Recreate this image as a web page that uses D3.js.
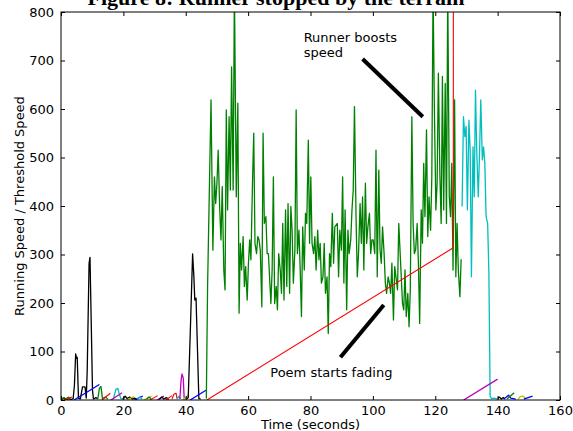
<!DOCTYPE html>
<html><head><meta charset="utf-8">
<script src="https://cdn.jsdelivr.net/npm/d3@7"></script>
<style>
body{margin:0;background:#fff;}
svg{display:block;font-family:"DejaVu Sans",sans-serif;}
</style></head><body>
<svg id="chart" width="573" height="431"></svg>
<script>
// ---------- data ----------
const titleText = "Figure 8: Runner stopped by the terrain";
const xLabelText = "Time (seconds)";
const yLabelText = "Running Speed / Threshold Speed";
const xTickValues = [0, 20, 40, 60, 80, 100, 120, 140, 160];
const yTickValues = [0, 100, 200, 300, 400, 500, 600, 700, 800];

// main running speed (green)
const greenTime = [46.6,47.0,48.1,48.7,49.2,49.6,50.0,50.4,50.9,51.3,51.7,52.2,52.6,53.0,53.4,53.9,54.3,54.7,55.2,55.6,56.2,56.7,57.1,57.5,57.9,58.4,58.8,59.2,59.7,60.1,60.5,60.9,61.4,61.8,62.2,62.7,63.1,63.5,63.9,64.4,64.8,65.2,65.7,66.1,66.5,
67.3,67.7,68.1,68.5,69.0,69.4,69.8,70.3,70.7,71.1,71.5,72.0,72.4,72.8,73.3,73.7,74.1,74.5,75.0,75.4,75.8,76.3,76.7,77.1,77.5,78.0,78.4,78.8,79.3,79.7,80.1,80.5,81.0,81.4,81.8,82.3,82.7,83.1,83.5,84.0,84.4,84.8,85.3,85.7,86.1,86.5,87.0,87.4,87.8,
88.6,89.0,89.4,89.9,90.3,90.7,91.1,91.6,92.0,92.4,92.9,93.3,93.7,94.1,94.6,95.0,95.4,95.9,96.3,96.7,97.1,97.6,98.0,98.4,98.9,99.3,99.7,100.1,100.6,101.0,101.4,101.9,102.3,102.7,103.1,103.6,104.0,104.4,104.9,105.3,105.7,106.1,106.6,107.0,107.4,107.9,108.3,
109.0,109.5,109.9,110.3,110.7,111.2,111.6,112.0,112.5,112.9,113.3,113.7,114.2,114.6,115.0,115.5,115.9,116.3,116.7,117.2,117.6,118.0,118.5,118.9,119.3,119.7,120.2,120.6,121.0,121.5,121.9,122.3,122.7,123.2,123.6,124.0,124.5,124.9,125.3,125.7,126.2,126.6,127.0,127.4,127.9,128.3];
const greenSpeed = [3,234,619,309,460,405,447,515,392,330,440,268,227,598,392,584,433,687,433,850,419,612,179,323,268,337,234,275,206,282,330,289,447,550,323,302,337,330,309,192,550,364,378,302,302,
199,268,460,199,234,186,302,268,220,364,206,392,234,405,220,399,350,241,309,598,302,350,268,172,357,268,385,364,536,323,460,323,302,337,268,350,289,323,241,254,323,220,254,137,302,275,385,282,357,
364,254,350,309,460,241,392,186,350,302,330,392,433,605,378,254,302,405,323,419,268,447,323,357,385,302,330,330,302,515,254,474,309,282,357,302,241,220,254,241,220,282,165,275,254,227,364,
268,199,186,268,172,220,151,227,584,364,302,309,364,282,158,392,323,488,378,557,337,419,350,460,850,612,392,447,674,460,364,667,392,653,364,850,419,378,488,268,619,254,364,268,213,290];

// threshold for the main run (red)
const redThreshold = [[46.8, 0], [125.8, 314], [125.8, 900]];

// second run speed (cyan) and its threshold (magenta)
const cyanRun = [[128.6,399],[129.05,584],[129.5,543],[129.9,564],[130.3,392],[130.8,577],[131.2,515],[131.6,254],[132.1,522],[132.5,419],[132.9,639],[133.3,515],[133.8,419],[134.2,509],[134.6,619],[135.1,495],[135.5,522],[135.9,488],[136.3,378],[136.8,364],[137.2,261],[137.6,7],[138.1,3],[138.9,4],[140.0,2]];
const magentaThreshold = [[129.1, 0], [140.0, 43]];

// early short runs and thresholds
const blackRunA = [[0,2],[0.8,4],[1.6,1],[2.4,3],[3.2,1],[3.9,3],[4.3,30],[4.7,95],[5.0,86],[5.2,88],[5.6,4],[6.2,2],[6.9,27],[7.7,27],[8.1,4],[8.4,60],[9.0,282],[9.3,294],[10.1,20],[10.4,2],[11.2,5],[11.8,2]];
const greenRunA = [[0.3,1],[1.0,5],[1.6,2],[2.4,6],[3.0,1]];
const redThresholdA = [[1.0,0],[3.5,6]];
const blueThresholdA = [[4.2,0],[12.3,32]];
const greenRunB = [[11.8,2],[12.3,24],[12.8,28],[13.3,3],[14.2,6],[15.0,2]];
const redThresholdB = [[13.2,0],[15.8,14]];
const cyanRunB = [[16.8,2],[17.6,22],[18.2,24],[18.7,12],[19.2,3],[20.0,2]];
const magentaThresholdB = [[16.0,0],[19.6,15]];
const blackRunC = [[19.8,2],[20.6,8],[21.2,3],[22.0,6],[22.8,2],[23.6,4],[24.4,1]];
const yellowThresholdC = [[21.0,0],[23.4,7]];
const blueThresholdD = [[23.5,0],[26.2,8]];
const cyanRunD = [[24.5,2],[25.2,6],[26.0,2]];
const yellowThresholdE = [[26.6,0],[29.0,8]];
const greenRunE = [[27.5,2],[28.2,6],[28.9,2]];
const redThresholdE = [[28.6,0],[31.0,9]];
const magentaThresholdF = [[30.8,0],[33.0,8]];
const blackRunF = [[31.5,1],[32.3,6],[33.0,2],[33.8,5],[34.5,1]];
const redThresholdG = [[33.6,0],[35.6,9]];
const redRunH = [[35.6,2],[36.2,12],[36.9,14],[37.2,3]];
const cyanRunH = [[37.2,2],[37.8,8],[38.4,3]];
const magentaRunI = [[38.1,2],[38.5,40],[38.8,54],[39.2,45],[39.5,3],[40.0,2]];
const yellowThresholdI = [[39.0,0],[40.8,10]];
const blackRunJ = [[40.3,2],[40.8,5],[41.5,150],[42.2,301],[42.6,255],[42.9,206],[43.3,210],[44.2,3],[44.8,2]];
const blueThresholdJ = [[41.4,0],[46.5,20]];
// tail runs after 140 s
const blackRunK = [[140,3],[140.6,6],[141.2,2],[141.8,5],[142.3,2]];
const blueRunK = [[142.0,2],[142.8,6],[143.5,10],[144.2,4],[145.0,3],[145.8,2]];
const greenThresholdK = [[143.0,2],[145.3,15]];
const yellowRunL = [[146.6,2],[147.2,7],[148.2,8],[148.9,3]];
const blueThresholdL = [[148.4,2],[151.2,8]];

// annotations (data coordinates)
const annotationTexts = [["Runner boosts", "speed"], ["Poem starts fading"]];
const annotationAnchors = [[77.8, 738], [67.1, 47]];
const arrowSegments = [[[96.7, 703], [116.0, 584]], [[89.6, 88], [103.5, 196]]];

// ---------- styles ----------
const C = {b:"#0000ff", g:"#008000", r:"#ff0000", c:"#00bfbf", m:"#bf00bf", y:"#bfbf00", k:"#000000"};
const greenPairs = greenTime.map((t, i) => [t, greenSpeed[i]]);
const seriesList = [
  [blackRunA, C.k], [greenRunA, C.g], [redThresholdA, C.r], [blueThresholdA, C.b],
  [greenRunB, C.g], [redThresholdB, C.r], [cyanRunB, C.c], [magentaThresholdB, C.m],
  [blackRunC, C.k], [yellowThresholdC, C.y], [blueThresholdD, C.b], [cyanRunD, C.c],
  [yellowThresholdE, C.y], [greenRunE, C.g], [redThresholdE, C.r], [magentaThresholdF, C.m],
  [blackRunF, C.k], [redThresholdG, C.r], [redRunH, C.r], [cyanRunH, C.c],
  [magentaRunI, C.m], [yellowThresholdI, C.y], [blackRunJ, C.k], [blueThresholdJ, C.b],
  [greenPairs, C.g], [redThreshold, C.r], [cyanRun, C.c], [magentaThreshold, C.m],
  [blackRunK, C.k], [blueRunK, C.b], [greenThresholdK, C.g], [yellowRunL, C.y], [blueThresholdL, C.b]
];

// ---------- layout ----------
const svg = d3.select("#chart");
const L = 61, R = 560, T = 12, B = 400;
const x = d3.scaleLinear().domain([0, 160]).range([L, R]);
const y = d3.scaleLinear().domain([0, 800]).range([B, T]);

svg.append("defs").append("clipPath").attr("id", "plotclip")
  .append("rect").attr("x", L).attr("y", T).attr("width", R - L).attr("height", B - T);

const plot = svg.append("g").attr("clip-path", "url(#plotclip)");
const line = d3.line().x(d => x(d[0])).y(d => y(d[1]));

seriesList.forEach(([pts, col]) => {
  plot.append("path").datum(pts).attr("d", line)
    .attr("fill", "none").attr("stroke", col)
    .attr("stroke-width", col === C.r ? 1.1 : 1.3)
    .attr("stroke-linejoin", "round");
});

// arrows
arrowSegments.forEach(seg => {
  svg.append("line")
    .attr("x1", x(seg[0][0])).attr("y1", y(seg[0][1]))
    .attr("x2", x(seg[1][0])).attr("y2", y(seg[1][1]))
    .attr("stroke", "#000").attr("stroke-width", 4);
});

// annotation texts
annotationTexts.forEach((lines, i) => {
  const [t, v] = annotationAnchors[i];
  const tx = svg.append("text").attr("x", x(t)).attr("y", y(v))
    .attr("font-size", 13).attr("fill", "#000");
  lines.forEach((s, j) => tx.append("tspan").attr("x", x(t)).attr("dy", j === 0 ? 0 : 15).text(s));
});

// frame
svg.append("rect").attr("x", L).attr("y", T).attr("width", R - L).attr("height", B - T)
  .attr("fill", "none").attr("stroke", "#000").attr("stroke-width", 1);

// axes (ticks inward on all sides)
const axB = svg.append("g").attr("transform", `translate(0,${B})`)
  .call(d3.axisBottom(x).tickValues(xTickValues).tickSizeInner(-4).tickSizeOuter(0).tickPadding(6).tickFormat(d3.format("d")));
const axL = svg.append("g").attr("transform", `translate(${L},0)`)
  .call(d3.axisLeft(y).tickValues(yTickValues).tickSizeInner(-4).tickSizeOuter(0).tickPadding(7).tickFormat(d3.format("d")));
const axT = svg.append("g").attr("transform", `translate(0,${T})`)
  .call(d3.axisTop(x).tickValues(xTickValues).tickSizeInner(-4).tickSizeOuter(0).tickFormat(""));
const axR = svg.append("g").attr("transform", `translate(${R},0)`)
  .call(d3.axisRight(y).tickValues(yTickValues).tickSizeInner(-4).tickSizeOuter(0).tickFormat(""));
[axB, axL, axT, axR].forEach(a => {
  a.select(".domain").remove();
  a.selectAll(".tick line").attr("stroke", "#000");
  a.selectAll("text").attr("font-size", 13).attr("font-family", "DejaVu Sans, sans-serif").attr("fill", "#000");
});

// labels
svg.append("text").attr("x", (L + R) / 2).attr("y", 429).attr("text-anchor", "middle")
  .attr("font-size", 13).text(xLabelText);
svg.append("text").attr("transform", `translate(24,${(T + B) / 2}) rotate(-90)`)
  .attr("text-anchor", "middle").attr("font-size", 13).text(yLabelText);

// title (cropped at the top in the reference)
svg.append("text").attr("x", 276).attr("y", 5).attr("text-anchor", "middle")
  .attr("font-family", "Liberation Serif, serif").attr("font-weight", "bold")
  .attr("font-size", 22).text(titleText);
</script>
</body></html>
